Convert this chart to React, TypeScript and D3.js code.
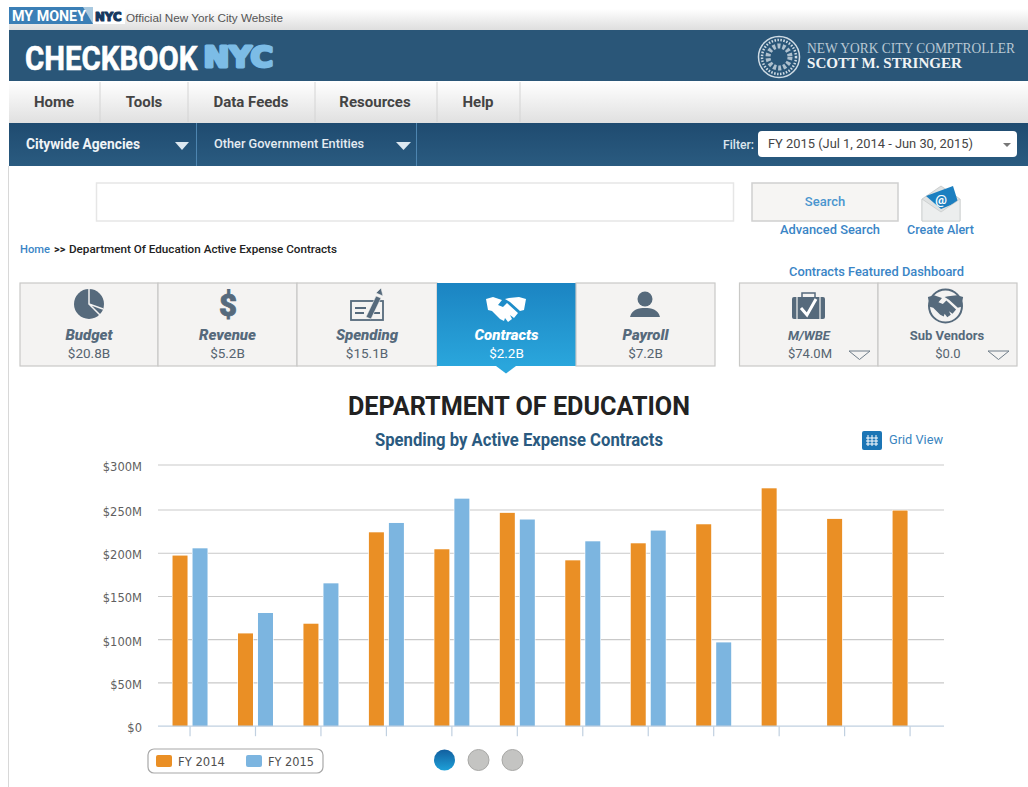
import React from "react";
import * as d3 from "d3";

const categories = ["1", "2", "3", "4", "5", "6", "7", "8", "9", "10", "11", "12"];
const fy2014 = [197.3, 107.3, 118.5, 224.2, 204.6, 246.7, 191.8, 211.5, 233.5, 274.1, 239.7, 249.4];
const fy2015: (number | null)[] = [205.7, 130.9, 165.2, 235, 262.6, 239, 213.8, 226.2, 96.9, null, null, null];
const yTicks = [0, 50, 100, 150, 200, 250, 300];
const navItems = [["Home", 54], ["Tools", 144], ["Data Feeds", 251], ["Resources", 375], ["Help", 478]] as const;
const navDividers = [100, 188, 315, 437, 520];
const tiles = [
  ["Budget", "$20.8B", 20, 158],
  ["Revenue", "$5.2B", 158, 297],
  ["Spending", "$15.1B", 297, 437],
  ["Contracts", "$2.2B", 437, 576],
  ["Payroll", "$7.2B", 576, 715],
] as const;

const ROBOTO = "Roboto, sans-serif";
const ICON = "#566a7c";
const ORANGE = "#ea8f25";
const BLUE = "#7cb5e0";

const x = d3.scaleBand<string>().domain(categories).range([157.3, 942.8]);
// the photographed axis is not quite even: the band from $250M to $300M is a little taller
const y = d3.scaleLinear().domain([0, 250, 300]).range([726.2, 510, 465]);
const series = d3.scaleBand<string>().domain(["FY 2014", "FY 2015"]).range([-17.5, 17.5]).paddingInner(0.25);
const fmt = (v: number) => (v === 0 ? "$0" : `$${v}M`);

function Bars({ name, values, fill }: { name: string; values: (number | null)[]; fill: string }) {
  return (
    <g>
      {values.map((v, i) =>
        v == null ? null : (
          <rect
            key={i}
            x={x(categories[i])! + x.bandwidth() / 2 + series(name)!}
            y={y(v)}
            width={series.bandwidth()}
            height={y(0) - y(v)}
            fill={fill}
            stroke="#fff"
            strokeWidth={1.2}
            paintOrder="stroke"
          />
        )
      )}
    </g>
  );
}

function Handshake({ cx, cy, color, s = 1 }: { cx: number; cy: number; color: string; s?: number }) {
  return (
    <g transform={`translate(${cx},${cy}) scale(${s})`} fill={color}>
      <path d="M-20,-9 L-13,-11 L-4,-8 L-8,-3 L-3,-1 L1,-5 L12,5 L8,10 L4,7 L6,11 L2,14 L-1,10 L-2,13 L-6,11 L-14,3 L-18,2 Z" />
      <path d="M20,-9 L13,-11 L3,-10 L-1,-9 L4,-6 L14,3 L18,2 Z" />
    </g>
  );
}

export default function App() {
  return (
    <svg width={1028} height={787} viewBox="0 0 1028 787" style={{ position: "absolute", left: 0, top: 0, background: "#fff" }}>
      <defs>
        <linearGradient id="top" x1="0" x2="0" y1="0" y2="1"><stop offset="0.3" stopColor="#fff" /><stop offset="1" stopColor="#dedede" /></linearGradient>
        <linearGradient id="nav" x1="0" x2="0" y1="0" y2="1"><stop offset="0" stopColor="#fff" /><stop offset="1" stopColor="#e0e0e0" /></linearGradient>
        <linearGradient id="sub" x1="0" x2="0" y1="0" y2="1"><stop offset="0" stopColor="#1f4b70" /><stop offset="1" stopColor="#2a5b80" /></linearGradient>
        <linearGradient id="tile" x1="0" x2="0" y1="0" y2="1"><stop offset="0" stopColor="#1b84c2" /><stop offset="1" stopColor="#2aa6dc" /></linearGradient>
        <linearGradient id="dot" x1="0" x2="0" y1="0" y2="1"><stop offset="0" stopColor="#125f9f" /><stop offset="1" stopColor="#1ea0d8" /></linearGradient>
      </defs>

      {/* top strip */}
      <rect x={9} y={0} width={1019} height={30} fill="url(#top)" />
      <rect x={9} y={7} width={116} height={17} fill="#fff" />
      <rect x={9} y={7} width={84} height={17} fill="#3b7fb6" />
      <path d="M83,7 L93,7 L93,24 Z" fill="#a9c9e0" />
      <text x={12} y={21} fontFamily={ROBOTO} fontWeight={700} fontSize={14} fill="#fff" textLength={74} lengthAdjust="spacingAndGlyphs">MY MONEY</text>
      <text transform="translate(95,20.5) scale(0.98,1)" fontFamily="DejaVu Sans" fontWeight={700} fontSize={12} fill="#16385f" stroke="#16385f" strokeWidth={1.2} strokeLinejoin="round">NYC</text>
      <text x={126} y={22} fontFamily="Liberation Sans" fontSize={11.5} fill="#555" textLength={157} lengthAdjust="spacingAndGlyphs">Official New York City Website</text>

      {/* header */}
      <rect x={9} y={30} width={1019} height={51} fill="#2a5678" />
      <text transform="translate(25,69.5) scale(0.865,1)" fontFamily={ROBOTO} fontWeight={700} fontSize={34} fill="#fff" stroke="#fff" strokeWidth={0.6}>CHECKBOOK</text>
      <text transform="translate(203.5,67) scale(1.1,1)" fontFamily="DejaVu Sans" fontWeight={700} fontSize={28} fill="#7cbce6" stroke="#7cbce6" strokeWidth={3} strokeLinejoin="round">NYC</text>
      <g fill="none" stroke="#cfdbe4">
        <circle cx={779} cy={57} r={20.5} strokeWidth={1.5} />
        <circle cx={779} cy={57} r={17} strokeWidth={2.5} strokeDasharray="1.5 1.5" />
        <circle cx={779} cy={57} r={11} strokeWidth={5} strokeDasharray="3 2" opacity={0.8} />
      </g>
      <text x={807} y={53} fontFamily="Liberation Serif" fontSize={14} fill="#b9c8d3" textLength={208} lengthAdjust="spacingAndGlyphs">NEW YORK CITY COMPTROLLER</text>
      <text x={807} y={68} fontFamily="Liberation Serif" fontWeight={700} fontSize={14.5} fill="#f0f3f5" textLength={155} lengthAdjust="spacingAndGlyphs">SCOTT M. STRINGER</text>

      {/* nav */}
      <rect x={9} y={81} width={1019} height={42} fill="url(#nav)" />
      {navDividers.map((d) => <line key={d} x1={d} x2={d} y1={82} y2={122} stroke="#d4d4d4" />)}
      {navItems.map(([t, cx]) => (
        <text key={t} x={cx} y={107} textAnchor="middle" fontFamily={ROBOTO} fontWeight={700} fontSize={15} fill="#444">{t}</text>
      ))}

      {/* sub nav */}
      <rect x={9} y={123} width={1019} height={43} fill="url(#sub)" />
      <line x1={196.5} x2={196.5} y1={123} y2={166} stroke="#4d85b0" />
      <line x1={416.5} x2={416.5} y1={123} y2={166} stroke="#4d85b0" />
      <text x={26} y={149} fontFamily={ROBOTO} fontWeight={700} fontSize={14} fill="#f0f4f7" textLength={114} lengthAdjust="spacingAndGlyphs">Citywide Agencies</text>
      <text x={214} y={148} fontFamily={ROBOTO} fontWeight={500} fontSize={13.5} fill="#e4ebf1" textLength={150} lengthAdjust="spacingAndGlyphs">Other Government Entities</text>
      <path d="M175,142 h14 l-7,8 Z M396,142 h15 l-7.5,8 Z" fill="#dce8f1" />
      <text x={723} y={149} fontFamily={ROBOTO} fontWeight={500} fontSize={13.5} fill="#dce6ee" textLength={31} lengthAdjust="spacingAndGlyphs">Filter:</text>
      <rect x={758} y={131} width={259} height={26} rx={4} fill="#fff" />
      <text x={768} y={148} fontFamily={ROBOTO} fontSize={13.5} fill="#444" textLength={205} lengthAdjust="spacingAndGlyphs">FY 2015 (Jul 1, 2014 - Jun 30, 2015)</text>
      <path d="M1003,143 h8 l-4,4 Z" fill="#777" />

      <line x1={8.5} x2={8.5} y1={166} y2={787} stroke="#d8d8d8" />

      {/* search */}
      <rect x={96.5} y={183} width={637} height={38} fill="#fff" stroke="#e6e6e6" strokeWidth={1.5} />
      <rect x={752} y={183} width={146} height={38} fill="#f6f5f3" stroke="#cfcfcf" strokeWidth={1.5} />
      <text x={825} y={206} textAnchor="middle" fontFamily={ROBOTO} fontWeight={500} fontSize={13} fill="#4a96cf">Search</text>
      <text x={780} y={234} fontFamily={ROBOTO} fontWeight={500} fontSize={13} fill="#3a85c6" textLength={100} lengthAdjust="spacingAndGlyphs">Advanced Search</text>
      <text x={907} y={234} fontFamily={ROBOTO} fontWeight={500} fontSize={13} fill="#3a85c6" textLength={67} lengthAdjust="spacingAndGlyphs">Create Alert</text>
      <text x={789} y={276} fontFamily={ROBOTO} fontWeight={500} fontSize={13} fill="#3a85c6" textLength={175} lengthAdjust="spacingAndGlyphs">Contracts Featured Dashboard</text>

      {/* envelope */}
      <path d="M922,199 L941,186 L960,199 V221 H922 Z" fill="#dfe2e2" stroke="#b5b8b8" strokeWidth={0.6} />
      <path d="M926,196 L953,186 L958,202 L941,209 Z" fill="#1c7fc0" />
      <text x={941} y={204} textAnchor="middle" fontFamily={ROBOTO} fontWeight={700} fontSize={13} fill="#fff">@</text>
      <path d="M922,199 L941,212 L960,199 V221 H922 Z" fill="#eceeee" stroke="#c0c2c2" strokeWidth={0.6} />

      {/* breadcrumb */}
      <text x={20} y={253} fontFamily={ROBOTO} fontWeight={500} fontSize={11} fill="#3a85c6" textLength={30} lengthAdjust="spacingAndGlyphs">Home</text>
      <text x={54} y={253} fontFamily={ROBOTO} fontWeight={700} fontSize={11} fill="#222">&gt;&gt;</text>
      <text x={69} y={253} fontFamily={ROBOTO} fontWeight={500} fontSize={11} fill="#222" textLength={268} lengthAdjust="spacingAndGlyphs">Department Of Education Active Expense Contracts</text>

      {/* tiles */}
      {tiles.map(([label, value, x0, x1]) => {
        const active = label === "Contracts";
        const c = (x0 + x1) / 2;
        return (
          <g key={label}>
            <rect x={x0} y={283} width={x1 - x0} height={83} fill={active ? "url(#tile)" : "#f4f3f2"} stroke={active ? "none" : "#c9c9c7"} strokeWidth={1.2} />
            <text x={c} y={340} textAnchor="middle" fontFamily={ROBOTO} fontWeight={900} fontStyle="italic" fontSize={15} fill={active ? "#fff" : ICON}>{label}</text>
            <text x={c} y={358} textAnchor="middle" fontFamily={ROBOTO} fontSize={13.5} fill={active ? "#fff" : "#566470"}>{value}</text>
          </g>
        );
      })}
      <path d="M496,366 h20 l-10,7.5 Z" fill="#2aa6dc" />

      {/* tile icons */}
      <circle cx={89} cy={304} r={15} fill={ICON} />
      <path d="M89,289 V304 L103,309 M89,304 L100,315" fill="none" stroke="#f4f3f2" strokeWidth={1.5} />
      <text x={228} y={316} textAnchor="middle" fontFamily={ROBOTO} fontWeight={900} fontSize={31} fill={ICON} stroke={ICON} strokeWidth={0.8}>$</text>
      <g fill="none" stroke={ICON} strokeWidth={1.8}>
        <rect x={351} y={301} width={32} height={19} />
        <path d="M355,308 h11 M355,313 h9 M374,313 h6" />
      </g>
      <path d="M366,317 L376,296 L381,298 L371,319 Z M376,293 L381,288 L383,296 Z" fill={ICON} stroke="#f4f3f2" strokeWidth={0.6} />
      <Handshake cx={506} cy={308} color="#fff" />
      <circle cx={645} cy={299} r={7.5} fill={ICON} />
      <path d="M630,317 C632,309 639,308 645,308 C651,308 658,309 660,317 Z" fill={ICON} />

      {/* featured tiles */}
      <rect x={739.5} y={283} width={138.5} height={83} fill="#f4f3f2" stroke="#c9c9c7" strokeWidth={1.2} />
      <rect x={878} y={283} width={139} height={83} fill="#f4f3f2" stroke="#c9c9c7" strokeWidth={1.2} />
      <rect x={792} y={297} width={33} height={22} rx={2} fill={ICON} />
      <rect x={802} y={293} width={13} height={5} fill="none" stroke={ICON} strokeWidth={1.5} />
      <path d="M797,297 v22 M820,297 v22" stroke="#f4f3f2" strokeWidth={1.2} />
      <path d="M801,308 L807,315 L816,299" fill="none" stroke="#fff" strokeWidth={3} />
      <circle cx={945.5} cy={306} r={16.5} fill="none" stroke={ICON} strokeWidth={2} />
      <Handshake cx={945.5} cy={305} color={ICON} s={0.88} />
      <text x={809} y={340} textAnchor="middle" fontFamily={ROBOTO} fontWeight={700} fontStyle="italic" fontSize={13} fill={ICON}>M/WBE</text>
      <text x={947} y={340} textAnchor="middle" fontFamily={ROBOTO} fontWeight={700} fontSize={13} fill={ICON}>Sub Vendors</text>
      <text x={810} y={358} textAnchor="middle" fontFamily={ROBOTO} fontSize={13} fill="#566470">$74.0M</text>
      <text x={948} y={358} textAnchor="middle" fontFamily={ROBOTO} fontSize={13} fill="#566470">$0.0</text>
      <path d="M849,351 h21 l-10.5,8.5 Z M988,351 h21 l-10.5,8.5 Z" fill="none" stroke="#6f7d89" />

      {/* chart heading */}
      <text x={519} y={414.5} textAnchor="middle" fontFamily={ROBOTO} fontWeight={700} fontSize={25} fill="#222" textLength={342} lengthAdjust="spacingAndGlyphs">DEPARTMENT OF EDUCATION</text>
      <text x={519} y={446} textAnchor="middle" fontFamily={ROBOTO} fontWeight={700} fontSize={18} fill="#2a5a80" textLength={288} lengthAdjust="spacingAndGlyphs">Spending by Active Expense Contracts</text>
      <rect x={862} y={431} width={20} height={19} rx={2} fill="#1c75b5" />
      <path d="M868,435 v11 M872,435 v11 M876,435 v11 M866,438 h12 M866,441 h12 M866,444 h12" stroke="#fff" strokeWidth={1} />
      <text x={889} y={444} fontFamily={ROBOTO} fontSize={13} fill="#3a85c0" textLength={54} lengthAdjust="spacingAndGlyphs">Grid View</text>

      {/* chart */}
      {yTicks.filter((t) => t > 0).map((t) => (
        <line key={t} x1={158} x2={944} y1={y(t)} y2={y(t)} stroke="#c9c9c9" strokeWidth={1.2} />
      ))}
      {yTicks.map((t) => (
        <text key={t} x={142} y={y(t) + 6} textAnchor="end" fontFamily="DejaVu Sans" fontSize={11.5} fill="#5f5f5f">{fmt(t)}</text>
      ))}
      <Bars name="FY 2014" values={fy2014} fill={ORANGE} />
      <Bars name="FY 2015" values={fy2015} fill={BLUE} />
      <line x1={158} x2={944} y1={y(0)} y2={y(0)} stroke="#c0d0e0" strokeWidth={1.2} />
      {categories.map((c) => {
        const tx = x(c)! + x.bandwidth() / 2;
        return <line key={c} x1={tx} x2={tx} y1={y(0)} y2={y(0) + 10} stroke="#c0d0e0" strokeWidth={1.2} />;
      })}

      {/* legend */}
      <rect x={148} y={749} width={175} height={24} rx={6} fill="#fff" stroke="#a8a8a8" strokeWidth={1.2} />
      <rect x={156} y={755} width={16} height={12} rx={2} fill={ORANGE} />
      <rect x={246} y={755} width={16} height={12} rx={2} fill={BLUE} />
      <text x={178} y={766} fontFamily="DejaVu Sans" fontSize={11.5} fill="#4f4f4f" textLength={47} lengthAdjust="spacingAndGlyphs">FY 2014</text>
      <text x={268} y={766} fontFamily="DejaVu Sans" fontSize={11.5} fill="#4f4f4f" textLength={46} lengthAdjust="spacingAndGlyphs">FY 2015</text>

      {/* pager */}
      <circle cx={444.5} cy={760} r={10.5} fill="url(#dot)" />
      <circle cx={478.5} cy={760} r={10.5} fill="#c4c4c2" stroke="#a8a8a6" />
      <circle cx={512.5} cy={760} r={10.5} fill="#c4c4c2" stroke="#a8a8a6" />
    </svg>
  );
}
